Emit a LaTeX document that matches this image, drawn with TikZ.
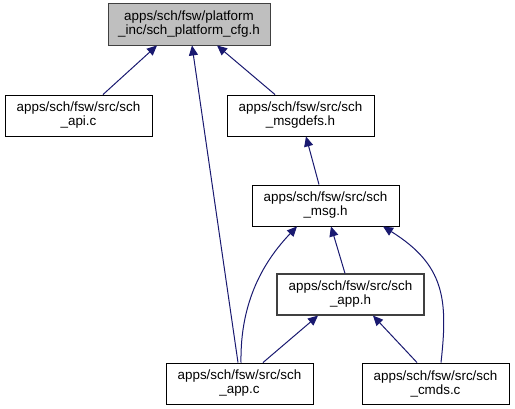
\documentclass[tikz,border=0pt]{standalone}
\usepackage{fontspec}
\setmainfont{Liberation Sans}
\usepackage{tikz}
\usetikzlibrary{arrows.meta}
\definecolor{edgeblue}{RGB}{25,25,112}

\begin{document}
\begin{tikzpicture}[x=1pt,y=-1pt,
  filebox/.style={draw=black,line width=0.9pt,minimum width=147pt,minimum height=41pt,inner sep=0pt,align=center,font=\fontsize{13.4}{14}\selectfont},
  dep/.style={draw=edgeblue,line width=1pt,-{Triangle[length=10pt,width=9pt]}}]
\useasboundingbox (0,0) rectangle (515,409);
\node[filebox,fill=black!25,draw=black!75,minimum width=162pt,minimum height=42pt] (platcfg) at (189,24) {apps/sch/fsw/platform\\\_inc/sch\_platform\_cfg.h};
\node[filebox] (api) at (78.5,115.5) {apps/sch/fsw/src/sch\\\_api.c};
\node[filebox] (msgdefs) at (300.5,115.5) {apps/sch/fsw/src/sch\\\_msgdefs.h};
\node[filebox] (msg) at (325.5,205.5) {apps/sch/fsw/src/sch\\\_msg.h};
\node[filebox,draw=black!75,line width=1.2pt] (apph) at (350.5,294.5) {apps/sch/fsw/src/sch\\\_app.h};
\node[filebox] (appc) at (239.5,383.5) {apps/sch/fsw/src/sch\\\_app.c};
\node[filebox] (cmds) at (435.5,383.5) {apps/sch/fsw/src/sch\\\_cmds.c};
\draw[dep] ([xshift=24.5]api.north) -- ([xshift=-32]platcfg.south);
\draw[dep] ([xshift=-25.5]msgdefs.north) -- ([xshift=28]platcfg.south);
\draw[dep] ([xshift=-1.5]appc.north) -- ([xshift=3]platcfg.south);
\draw[dep] ([xshift=-6.5]msg.north) -- ([xshift=5.5]msgdefs.south);
\draw[dep] ([xshift=-5.5]apph.north) -- ([xshift=5.5]msg.south);
\draw[dep] ([xshift=1.5]appc.north) .. controls (240,300) and (265,260) .. ([xshift=-28.5]msg.south); % curved one on the left
\draw[dep] ([xshift=5.5]cmds.north) .. controls (448,300) and (445,265) .. ([xshift=57.5]msg.south);
\draw[dep] ([xshift=23.5]appc.north) -- ([xshift=-32.5]apph.south);
\draw[dep] ([xshift=-18.5]cmds.north) -- ([xshift=22.5]apph.south);
\end{tikzpicture}
\end{document}
